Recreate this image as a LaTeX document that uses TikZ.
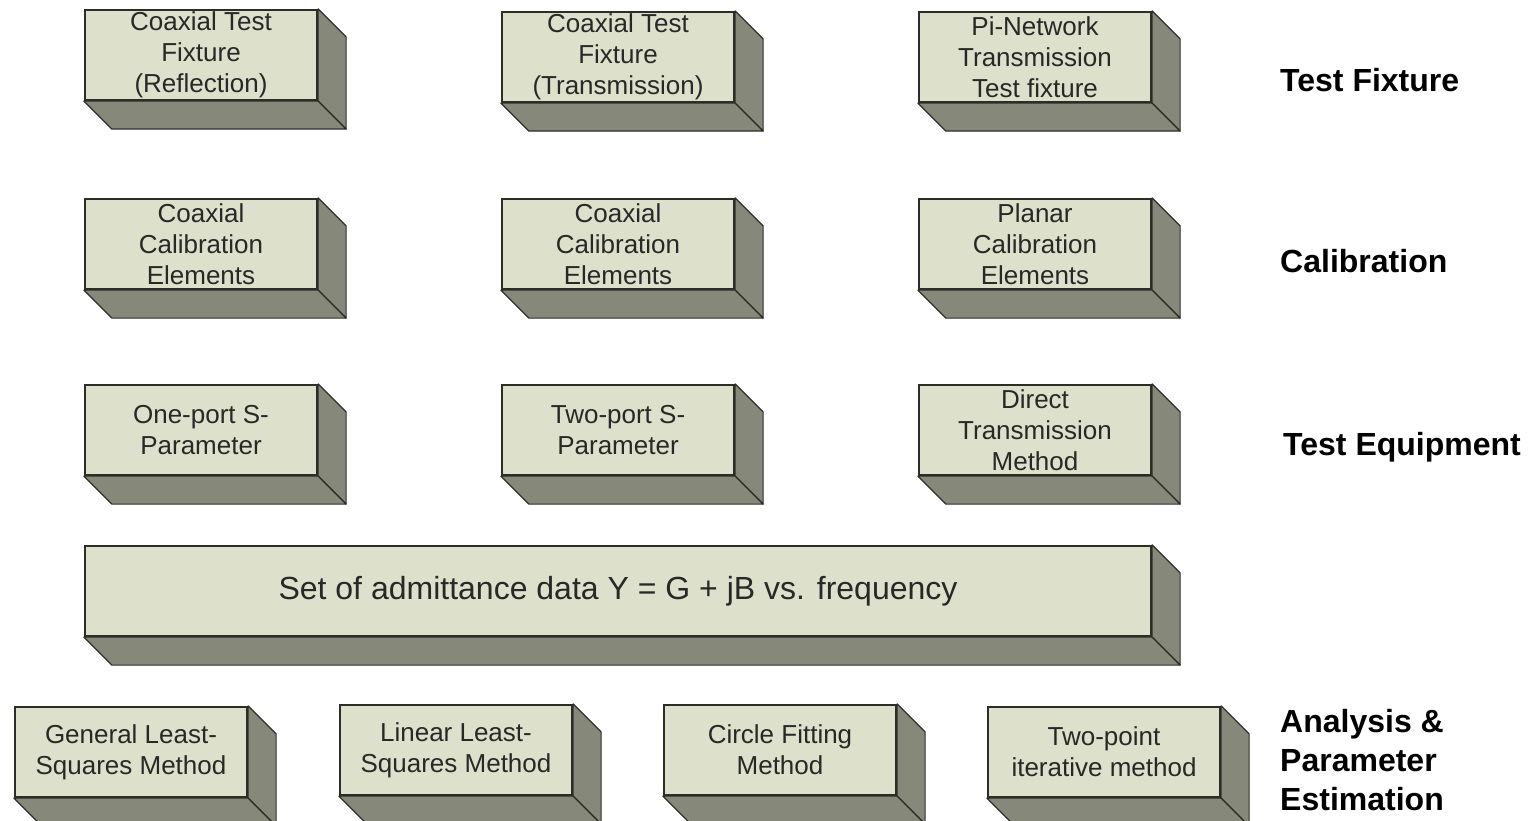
\documentclass[tikz,border=0pt]{standalone}
\usepackage{fontspec}
\setmainfont{Liberation Sans}
\definecolor{frontc}{RGB}{221,224,202}
\definecolor{sidec}{RGB}{134,137,122}
\definecolor{edgec}{RGB}{45,45,40}
\definecolor{txtc}{RGB}{40,40,40}
\tikzset{
  front/.style={draw=edgec, line width=2.2pt, fill=frontc, minimum width=232pt, minimum height=90pt,
    inner sep=0pt, align=center, text=txtc, font=\fontsize{26}{31}\selectfont, anchor=center},
  wide/.style={front, minimum width=1066pt, font=\fontsize{32}{38}\selectfont},
  side/.style={draw=edgec, line width=1.2pt, fill=sidec, line join=round},
  lab/.style={anchor=west, align=left, inner sep=0pt, font=\fontsize{32}{39}\selectfont\bfseries, text=black}
}
\newcommand{\extr}[1]{%
  \path[side] (#1.north east) -- ++(28,28) -- ([shift={(28,28)}]#1.south east) -- (#1.south east) -- cycle;
  \path[side] (#1.south west) -- ++(28,28) -- ([shift={(28,28)}]#1.south east) -- (#1.south east) -- cycle;
}
\begin{document}
\begin{tikzpicture}[x=1pt,y=-1pt]
\useasboundingbox (0,0) rectangle (1533,821);
% row 1
\node[front] (tf1) at (201,55) {Coaxial Test\\Fixture\\(Reflection)};
\node[front] (tf2) at (618,57) {Coaxial Test\\Fixture\\(Transmission)};
\node[front] (tf3) at (1035,57) {Pi-Network\\Transmission\\Test fixture};
% row 2
\node[front] (cal1) at (201,244) {Coaxial\\Calibration\\Elements};
\node[front] (cal2) at (618,244) {Coaxial\\Calibration\\Elements};
\node[front] (cal3) at (1035,244) {Planar\\Calibration\\Elements};
% row 3
\node[front] (te1) at (201,430) {One-port S-\\Parameter};
\node[front] (te2) at (618,430) {Two-port S-\\Parameter};
\node[front] (te3) at (1035,430) {Direct\\Transmission\\Method};
% big
\node[wide] (data) at (618,591) {Set of admittance data Y = G + jB vs. frequency};
% row 5
\node[front] (an1) at (131,752) {General Least-\\Squares Method};
\node[front] (an2) at (456,750) {Linear Least-\\Squares Method};
\node[front] (an3) at (780,750) {Circle Fitting\\Method};
\node[front] (an4) at (1104,752) {Two-point\\iterative method};
\extr{tf1}\extr{tf2}\extr{tf3}
\extr{cal1}\extr{cal2}\extr{cal3}
\extr{te1}\extr{te2}\extr{te3}
\extr{data}
\extr{an1}\extr{an2}\extr{an3}\extr{an4}
% labels
\node[lab] (l1) at (1280,80) {Test Fixture};
\node[lab] (l2) at (1280,261) {Calibration};
\node[lab] (l3) at (1283,447) {Test Equipment};
\node[lab] (l4) at (1280,760) {Analysis \&\\Parameter\\Estimation};
\end{tikzpicture}
\end{document}
